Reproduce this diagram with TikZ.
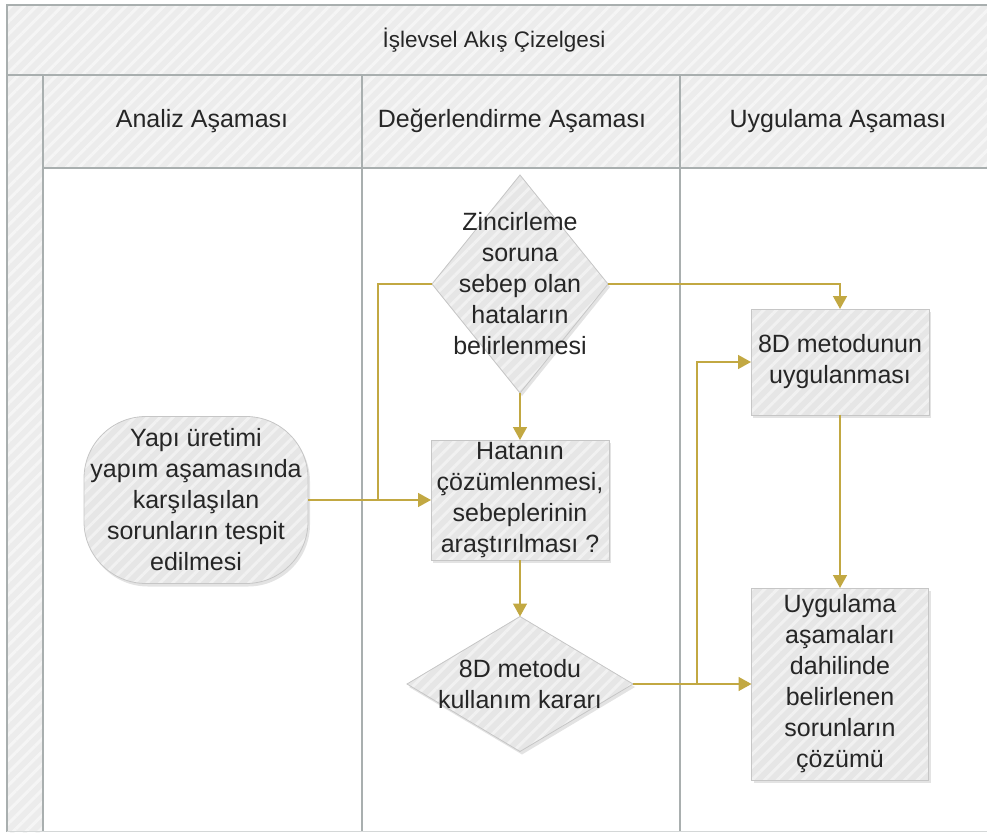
\documentclass[tikz,border=0pt]{standalone}
\usepackage{fontspec}
\setmainfont{Liberation Sans}
\usetikzlibrary{shapes.geometric,arrows.meta,shadows,patterns.meta}

\definecolor{akis}{HTML}{C2A842}
\definecolor{cerceve}{HTML}{A9AFAF}
\definecolor{dolgu}{HTML}{E6E6E6}
\definecolor{baslik}{HTML}{ECECEC}

\newcommand{\dugumyazi}{\fontsize{25}{31}\selectfont}
\newcommand{\baslikyazi}{\fontsize{25}{30}\selectfont}

\tikzset{
  cizgi/.style={draw=cerceve, line width=1.3pt},
  serit/.style={fill=baslik, postaction={pattern={Lines[angle=45,distance=9pt,line width=3pt]}, pattern color=baslik!50!white}},
  sekil/.style={draw=gray!45, line width=0.8pt, inner sep=0pt, outer sep=0pt,
    drop shadow={shadow xshift=2pt, shadow yshift=-3pt, opacity=0.22},
    preaction={fill=dolgu},
    preaction={pattern={Lines[angle=45,distance=9pt,line width=3pt]}, pattern color=dolgu!55!white}},
  kutu/.style={sekil, rectangle, align=center, font=\dugumyazi, text=black!85},
  terminal/.style={sekil, rectangle, rounded corners=62pt, align=center, font=\dugumyazi, text=black!85},
  karar/.style={sekil, diamond},
  yazi/.style={align=center, font=\dugumyazi, text=black!85, inner sep=0pt},
  baslikmetin/.style={font=\baslikyazi, text=black!85},
  akisok/.style={draw=akis, line width=1.5pt, -{Triangle[length=13pt,width=14pt]}},
  akiscizgi/.style={draw=akis, line width=1.5pt},
}

\begin{document}
\begin{tikzpicture}[x=1pt,y=-1pt]
\useasboundingbox (0,0) rectangle (987,832);

% serit ve basliklar
\fill[serit] (7,5) rectangle (987,75);
\fill[serit] (7,75) rectangle (43,832);
\fill[serit] (43,75) rectangle (987,168);
\draw[cizgi] (7,832) -- (7,5) -- (992,5);
\draw[cizgi] (7,75) -- (992,75);
\draw[cizgi] (43,75) -- (43,832);
\draw[cizgi] (43,168) -- (992,168);
\draw[cizgi] (362,75) -- (362,832);
\draw[cizgi] (680,75) -- (680,832);
\draw[draw=cerceve!50, line width=1pt] (7,831) -- (987,831);

\node[baslikmetin, font=\fontsize{22.5}{28}\selectfont] (cizelge) at (494,40) {İşlevsel Akış Çizelgesi};
\node[baslikmetin] (analiz) at (202,121) {Analiz Aşaması};
\node[baslikmetin] (degerlendirme) at (512,121) {Değerlendirme Aşaması};
\node[baslikmetin] (uygulama) at (838,121) {Uygulama Aşaması};

% sekiller
\node[terminal, minimum width=224pt, minimum height=167pt] (yapi) at (196,500)
  {Yapı üretimi\\yapım aşamasında\\karşılaşılan\\sorunların tespit\\edilmesi};
\node[karar, minimum width=176pt, minimum height=218pt] (zincir) at (520,284) {};
\node[yazi] (zincirT) at (zincir) {Zincirleme\\soruna\\sebep olan\\hataların\\belirlenmesi};
\node[kutu, minimum width=178pt, minimum height=120pt] (hata) at (520,500)
  {Hatanın\\çözümlenmesi,\\sebeplerinin\\araştırılması ?};
\node[karar, minimum width=226pt, minimum height=135pt] (karar) at (520,684) {};
\node[yazi] (kararT) at (karar) {8D metodu\\kullanım kararı};
\node[kutu, minimum width=178pt, minimum height=106pt] (uyg8d) at (840,362)
  {8D metodunun\\uygulanması};
\node[kutu, minimum width=177pt, minimum height=192pt] (coz) at (840,684)
  {Uygulama\\aşamaları\\dahilinde\\belirlenen\\sorunların\\çözümü};

% baglantilar
\coordinate (solkol) at (378,500);
\coordinate (sagkol) at (697,684);
\draw[akisok] (zincir.south) -- (hata.north);
\draw[akisok] (yapi.east) -- (hata.west);
\draw[akiscizgi] (zincir.west) -| (solkol);
\draw[akisok] (zincir.east) -| (uyg8d.north);
\draw[akisok] (hata.south) -- (karar.north);
\draw[akisok] (karar.east) -- (coz.west);
\draw[akisok] (sagkol) |- (uyg8d.west);
\draw[akisok] (uyg8d.south) -- (coz.north);
\end{tikzpicture}
\end{document}
